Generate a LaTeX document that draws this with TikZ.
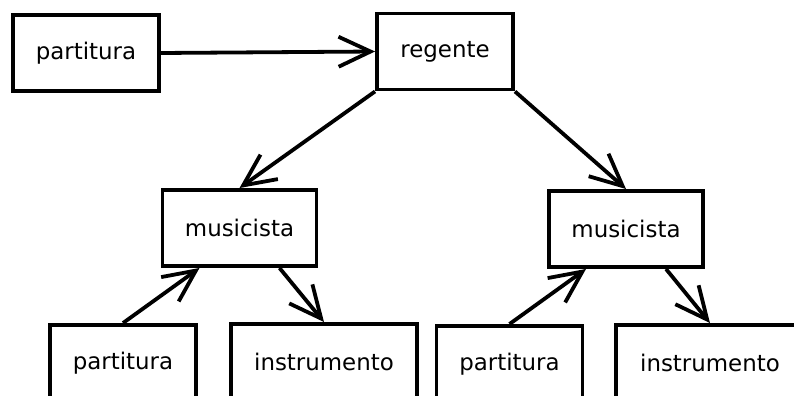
\documentclass[tikz,border=0pt]{standalone}
\usepackage{fontspec}
\setmainfont{DejaVu Sans}
\usetikzlibrary{arrows.meta}

\begin{document}
\begin{tikzpicture}[
		box/.style={draw, line width=2.8pt, minimum height=1.9cm, font=\fontsize{16.3}{19}\selectfont},
		conn/.style={line width=2.7pt, -{Straight Barb[length=0.8cm, width=0.75cm]}}
	]
			%%%%% START %%%%%
			
			\useasboundingbox (0, 0) rectangle (19.85, 9.9);
			\clip (0, 0) rectangle (19.85, 9.9);
			
			\node[box, minimum width=3.65cm] (part0) at (2.15, 8.575) {partitura};
			\node[box, minimum width=3.4cm] (regente) at (11.125, 8.6125) {regente};
			
			\node[box, minimum width=3.85cm] (musL) at (5.9875, 4.2) {musicista};
			\node[box, minimum width=3.85cm] (musR) at (15.65, 4.175) {musicista};
			
			\node[box, minimum width=3.65cm] (partL) at (3.075, 0.825) {partitura};
			\node[box, minimum width=4.65cm] (instrL) at (8.1, 0.85) {instrumento};
			\node[box, minimum width=3.65cm] (partR) at (12.7375, 0.8) {partitura};
			\node[box, minimum width=4.7cm] (instrR) at (17.75, 0.825) {instrumento};
			
			\draw[conn] (part0.east) -- (regente.west);
			\draw[conn] (regente.south west) -- (musL.north);
			\draw[conn] (regente.south east) -- (musR.north);
			
			\draw[conn] (partL.north) -- ([xshift=-1cm]musL.south);
			\draw[conn] ([xshift=1cm]musL.south) -- (instrL.north);
			\draw[conn] (partR.north) -- ([xshift=-1cm]musR.south);
			\draw[conn] ([xshift=1cm]musR.south) -- (instrR.north);
			
			%%%%% END %%%%%
		\end{tikzpicture}
\end{document}
